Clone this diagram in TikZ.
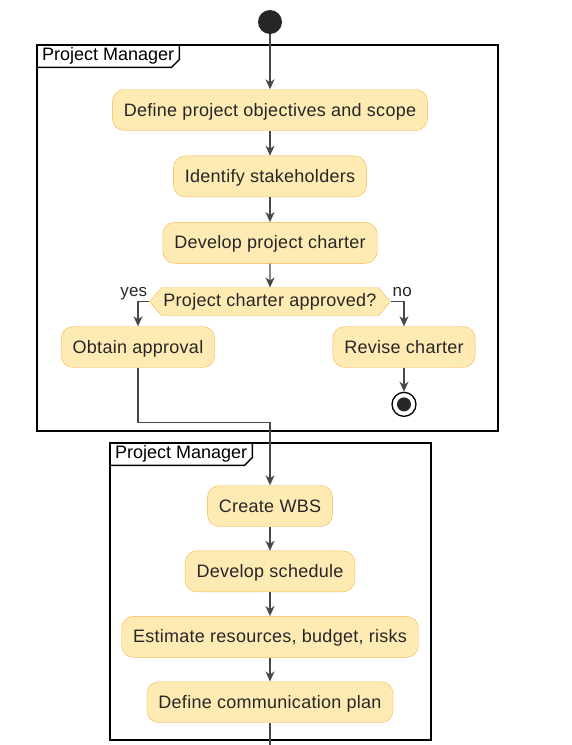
\documentclass[tikz,border=0pt]{standalone}
\usepackage{fontspec}
\setmainfont{Liberation Sans}
\newfontfamily\actfont[LetterSpace=1.5]{Liberation Sans}
\usetikzlibrary{arrows.meta,positioning,shapes.symbols}
\definecolor{actfill}{RGB}{254,235,180}
\definecolor{actline}{RGB}{246,180,80}
\definecolor{flowline}{RGB}{72,72,72}
\definecolor{ink}{RGB}{38,38,38}
\tikzset{
  actbox/.style  ={draw=actline,fill=actfill,rounded corners=12pt,text=ink,
                   font=\actfont\fontsize{18}{20}\selectfont,minimum height=41pt,inner xsep=11.5pt,
                   text height=14.5pt,text depth=2.5pt},
  choice/.style  ={shape=signal,signal to=west and east,signal pointer angle=100,
                   draw=actline,fill=actfill,text=ink,font=\actfont\fontsize{18}{20}\selectfont,
                   minimum height=28pt,inner xsep=2pt,inner ysep=0pt,text height=13.5pt,text depth=3.5pt},
  flow/.style    ={-{Stealth[length=10pt,width=9pt,inset=3pt]},draw=flowline,line width=1.3pt},
  wire/.style    ={draw=flowline,line width=1.3pt},
  branch/.style  ={font=\actfont\fontsize{17}{19}\selectfont,text=ink,inner sep=1pt},
  lane/.style    ={draw=black,line width=2pt},
  lanetag/.style ={anchor=north west,font=\fontsize{18}{20}\selectfont,text=black,
                   inner xsep=5pt,inner ysep=0pt,minimum height=22pt},
  startdot/.style={circle,fill=ink,minimum size=24pt,inner sep=0pt},
  stopring/.style={circle,draw=black,fill=white,line width=1.3pt,minimum size=24pt,inner sep=0pt,
                   path picture={\fill[ink] (path picture bounding box.center) circle (7pt);}},
}
\begin{document}
\begin{tikzpicture}[x=1pt,y=-1pt,node distance=24pt]
\useasboundingbox (0,0) rectangle (571,745);
% first lane
\draw[lane] (37,45) rectangle (498,431);
\node[lanetag] (pm1) at (37,45) {Project Manager};
\draw[lane,line width=1.5pt] (pm1.north east) -- ([yshift=8pt]pm1.south east)
  -- ([xshift=-8pt]pm1.south east) -- (pm1.south west);
\node[startdot] (start) at (270,22) {};
\node[actbox] (scope) at (270,110) {Define project objectives and scope};
\node[actbox,below=25pt of scope] (stake) {Identify stakeholders};
\node[actbox,below=25pt of stake] (charter) {Develop project charter};
\node[choice,below=of charter] (approved) {Project charter approved?};
\node[actbox] (obtain) at (138,347) {Obtain approval};
\node[actbox] (revise) at (404,347) {Revise charter};
\node[stopring,below=of revise] (stop) {};
\node[branch,anchor=base east,xshift=-1pt,yshift=5pt] (yes) at (approved.west) {yes};
\node[branch,anchor=base west,xshift=1pt,yshift=5pt] (no) at (approved.east) {no};
\draw[flow] (start) -- (scope);
\foreach \a/\b in {scope/stake,stake/charter,charter/approved} \draw[flow] (\a) -- (\b);
\draw[flow] (approved.west) -| (obtain.north);
\draw[flow] (approved.east) -| (revise.north);
\draw[flow] (revise) -- (stop);
% second lane
\draw[lane] (110,443) rectangle (431,740);
\node[lanetag] (pm2) at (110,443) {Project Manager};
\draw[lane,line width=1.5pt] (pm2.north east) -- ([yshift=8pt]pm2.south east)
  -- ([xshift=-8pt]pm2.south east) -- (pm2.south west);
\node[actbox] (wbs) at (270,506) {Create WBS};
\node[actbox,below=of wbs] (sched) {Develop schedule};
\node[actbox,below=of sched] (estim) {Estimate resources, budget, risks};
\node[actbox,below=of estim] (comm) {Define communication plan};
\draw[flow] (obtain.south) -- ++(0,55) -| (wbs.north);
\foreach \a/\b in {wbs/sched,sched/estim,estim/comm} \draw[flow] (\a) -- (\b);
\coordinate (exit) at (270,745);
\draw[wire] (comm) -- (exit);
\end{tikzpicture}
\end{document}
